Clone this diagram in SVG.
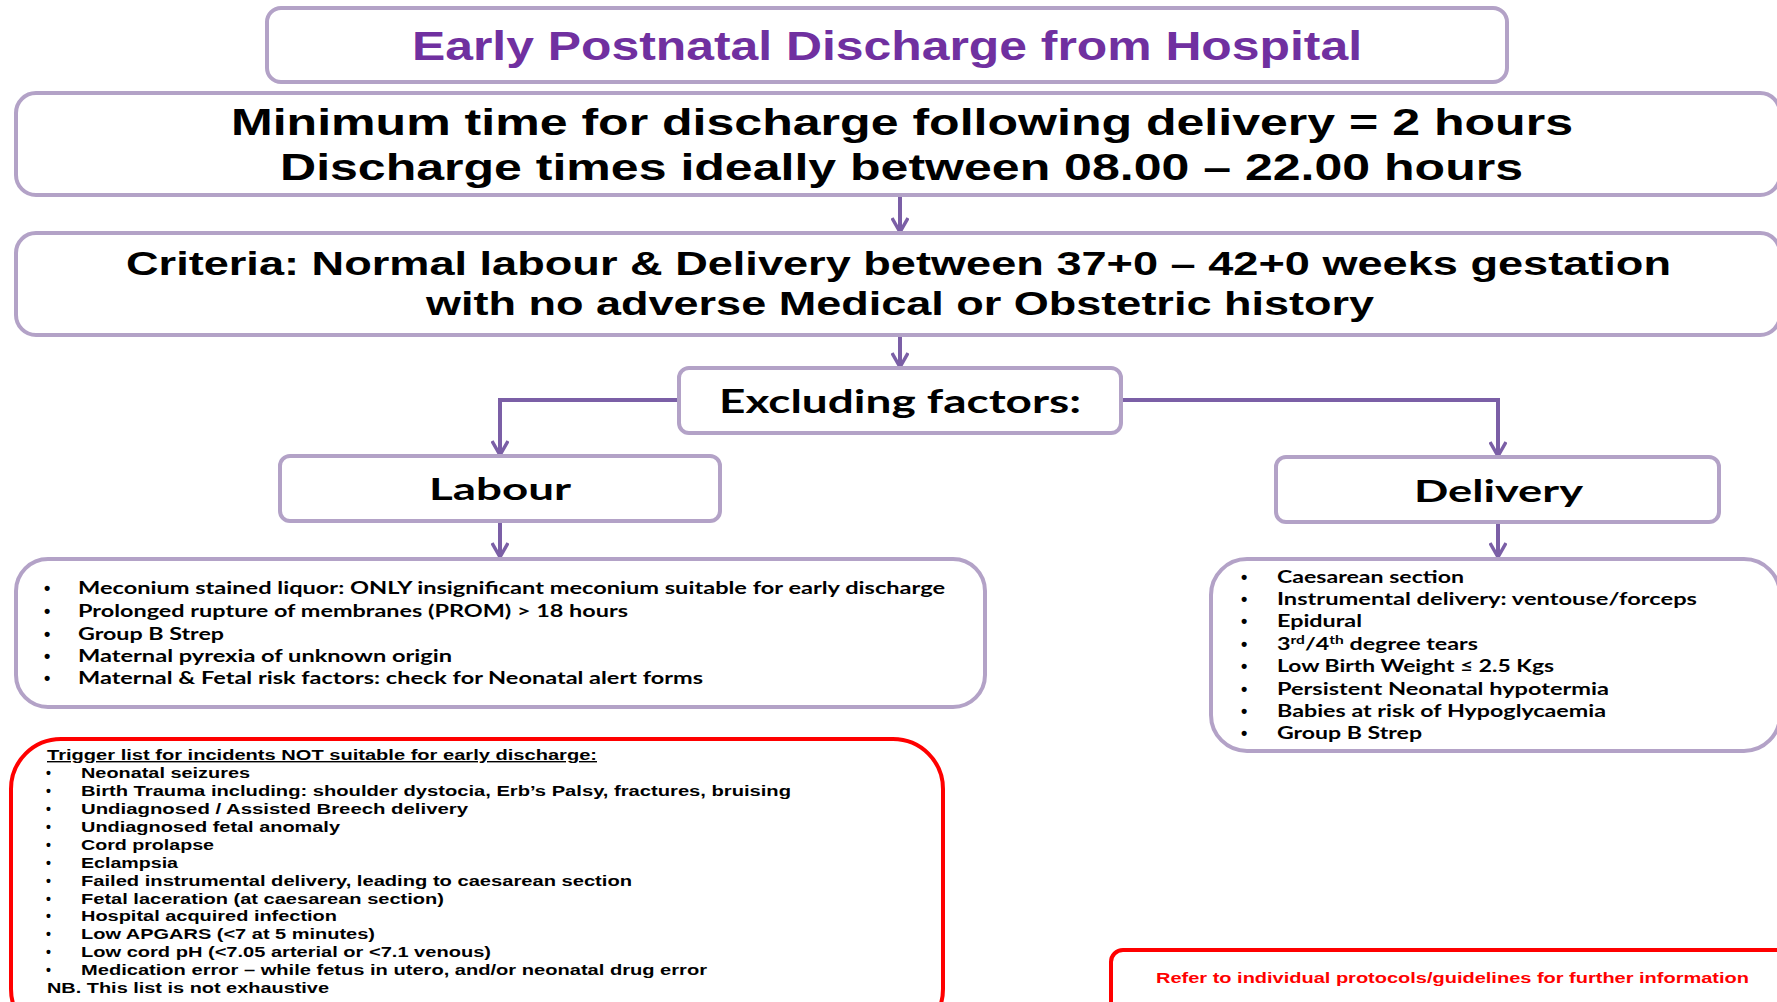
<svg xmlns="http://www.w3.org/2000/svg" width="1777" height="1002" viewBox="0 0 1777 1002">
  <style>
    .box { fill: #ffffff; stroke: #B3A2C7; stroke-width: 4; }
    .red { fill: #ffffff; stroke: #FF0000; stroke-width: 4; }
    .conn { fill: none; stroke: #7B5FA6; stroke-width: 4; }
    .head { font-family: "Liberation Sans", Arial, sans-serif; font-weight: bold; fill: #000000; }
    .title { font-family: "Liberation Sans", Arial, sans-serif; font-weight: bold; fill: #7030A0; font-size: 40px; }
    .lbl { font-family: Lato, "Open Sans", sans-serif; font-weight: bold; fill: #000000; }
    .item { font-family: Lato, "Open Sans", sans-serif; font-weight: bold; fill: #000000; font-size: 16.5px; }
    .dot { font-family: "Liberation Sans", Arial, sans-serif; font-weight: bold; fill: #000000; font-size: 18px; }
    .trig { font-family: "Liberation Sans", Arial, sans-serif; font-weight: bold; fill: #000000; font-size: 14px; }
    .note { font-family: "Liberation Sans", Arial, sans-serif; font-weight: bold; fill: #FF0000; font-size: 14px; }
  </style>
  <defs>
    <marker id="arrow" viewBox="0 0 18 18" refX="16" refY="9" markerWidth="18" markerHeight="18" markerUnits="userSpaceOnUse" orient="auto">
      <path d="M2,1 L16,9 L2,17" fill="none" stroke="#7B5FA6" stroke-width="3.5" stroke-linejoin="miter"/>
    </marker>
  </defs>
  <rect width="1777" height="1002" fill="#ffffff"/>

  <!-- connectors -->
  <g id="connectors">
    <path class="conn" d="M900,195 L900,232" marker-end="url(#arrow)"/>
    <path class="conn" d="M900,335 L900,367" marker-end="url(#arrow)"/>
    <path class="conn" d="M679,400 L500,400 L500,455" marker-end="url(#arrow)"/>
    <path class="conn" d="M1121,400 L1498,400 L1498,456" marker-end="url(#arrow)"/>
    <path class="conn" d="M500,521 L500,557" marker-end="url(#arrow)"/>
    <path class="conn" d="M1498,522 L1498,557" marker-end="url(#arrow)"/>
  </g>

  <!-- title -->
  <g id="title">
    <rect class="box" x="267" y="8" width="1240" height="74" rx="14"/>
    <text class="title" x="412" y="60" textLength="950" lengthAdjust="spacingAndGlyphs">Early Postnatal Discharge from Hospital</text>
  </g>

  <!-- discharge timing -->
  <g id="timing">
    <rect class="box" x="16" y="93" width="1764" height="102" rx="20"/>
    <text class="head" font-size="36" x="231" y="135" textLength="1342" lengthAdjust="spacingAndGlyphs">Minimum time for discharge following delivery = 2 hours</text>
    <text class="head" font-size="36" x="280" y="180" textLength="1243" lengthAdjust="spacingAndGlyphs">Discharge times ideally between 08.00 – 22.00 hours</text>
  </g>

  <!-- criteria -->
  <g id="criteria">
    <rect class="box" x="16" y="233" width="1764" height="102" rx="20"/>
    <text class="head" font-size="33" x="126" y="275" textLength="1545" lengthAdjust="spacingAndGlyphs">Criteria: Normal labour &amp; Delivery between 37+0 – 42+0 weeks gestation</text>
    <text class="head" font-size="33" x="426" y="315" textLength="948" lengthAdjust="spacingAndGlyphs">with no adverse Medical or Obstetric history</text>
  </g>

  <!-- excluding factors -->
  <g id="excluding">
    <rect class="box" x="679" y="368" width="442" height="65" rx="10"/>
    <text class="lbl" font-size="32" x="719" y="413" textLength="362" lengthAdjust="spacingAndGlyphs">Excluding factors:</text>
  </g>

  <!-- labour -->
  <g id="labour">
    <rect class="box" x="280" y="456" width="440" height="65" rx="10"/>
    <text class="lbl" font-size="31" x="429" y="500" textLength="142" lengthAdjust="spacingAndGlyphs">Labour</text>
  </g>

  <!-- delivery -->
  <g id="delivery">
    <rect class="box" x="1276" y="457" width="443" height="65" rx="10"/>
    <text class="lbl" font-size="31" x="1414" y="502" textLength="169" lengthAdjust="spacingAndGlyphs">Delivery</text>
  </g>

  <!-- labour factors -->
  <g id="labour-list">
    <rect class="box" x="16" y="559" width="969" height="148" rx="32"/>
    <g class="dot">
      <text x="44" y="594">•</text>
      <text x="44" y="617">•</text>
      <text x="44" y="640">•</text>
      <text x="44" y="662">•</text>
      <text x="44" y="684">•</text>
    </g>
    <text class="item" x="78" y="594" textLength="867" lengthAdjust="spacingAndGlyphs">Meconium stained liquor: ONLY insignificant meconium suitable for early discharge</text>
    <text class="item" x="78" y="617" textLength="550" lengthAdjust="spacingAndGlyphs">Prolonged rupture of membranes (PROM) &gt; 18 hours</text>
    <text class="item" x="78" y="640" textLength="146" lengthAdjust="spacingAndGlyphs">Group B Strep</text>
    <text class="item" x="78" y="662" textLength="374" lengthAdjust="spacingAndGlyphs">Maternal pyrexia of unknown origin</text>
    <text class="item" x="78" y="684" textLength="625" lengthAdjust="spacingAndGlyphs">Maternal &amp; Fetal risk factors: check for Neonatal alert forms</text>
  </g>

  <!-- delivery factors -->
  <g id="delivery-list">
    <rect class="box" x="1211" y="559" width="569" height="192" rx="36"/>
    <g class="dot">
      <text x="1241" y="583">•</text>
      <text x="1241" y="605">•</text>
      <text x="1241" y="627">•</text>
      <text x="1241" y="650">•</text>
      <text x="1241" y="672">•</text>
      <text x="1241" y="695">•</text>
      <text x="1241" y="717">•</text>
      <text x="1241" y="739">•</text>
    </g>
    <text class="item" x="1277" y="583" textLength="187" lengthAdjust="spacingAndGlyphs">Caesarean section</text>
    <text class="item" x="1277" y="605" textLength="420" lengthAdjust="spacingAndGlyphs">Instrumental delivery: ventouse/forceps</text>
    <text class="item" x="1277" y="627" textLength="85" lengthAdjust="spacingAndGlyphs">Epidural</text>
    <text class="item" x="1277" y="650" textLength="201" lengthAdjust="spacingAndGlyphs">3<tspan font-size="11" dy="-6">rd</tspan><tspan dy="6">/4</tspan><tspan font-size="11" dy="-6">th</tspan><tspan dy="6"> degree tears</tspan></text>
    <text class="item" x="1277" y="672" textLength="277" lengthAdjust="spacingAndGlyphs">Low Birth Weight ≤ 2.5 Kgs</text>
    <text class="item" x="1277" y="695" textLength="332" lengthAdjust="spacingAndGlyphs">Persistent Neonatal hypotermia</text>
    <text class="item" x="1277" y="717" textLength="329" lengthAdjust="spacingAndGlyphs">Babies at risk of Hypoglycaemia</text>
    <text class="item" x="1277" y="739" textLength="145" lengthAdjust="spacingAndGlyphs">Group B Strep</text>
  </g>

  <!-- trigger list -->
  <g id="trigger-list">
    <rect class="red" x="11" y="739" width="932" height="300" rx="50"/>
    <text class="trig" x="47" y="760" textLength="550" lengthAdjust="spacingAndGlyphs" text-decoration="underline">Trigger list for incidents NOT suitable for early discharge:</text>
    <g class="trig">
      <text x="46" y="778">•</text>
      <text x="46" y="796">•</text>
      <text x="46" y="814">•</text>
      <text x="46" y="832">•</text>
      <text x="46" y="850">•</text>
      <text x="46" y="868">•</text>
      <text x="46" y="886">•</text>
      <text x="46" y="904">•</text>
      <text x="46" y="921">•</text>
      <text x="46" y="939">•</text>
      <text x="46" y="957">•</text>
      <text x="46" y="975">•</text>
    </g>
    <text class="trig" x="81" y="778" textLength="169" lengthAdjust="spacingAndGlyphs">Neonatal seizures</text>
    <text class="trig" x="81" y="796" textLength="710" lengthAdjust="spacingAndGlyphs">Birth Trauma including: shoulder dystocia, Erb’s Palsy, fractures, bruising</text>
    <text class="trig" x="81" y="814" textLength="387" lengthAdjust="spacingAndGlyphs">Undiagnosed  / Assisted Breech delivery</text>
    <text class="trig" x="81" y="832" textLength="259" lengthAdjust="spacingAndGlyphs">Undiagnosed fetal anomaly</text>
    <text class="trig" x="81" y="850" textLength="133" lengthAdjust="spacingAndGlyphs">Cord prolapse</text>
    <text class="trig" x="81" y="868" textLength="97" lengthAdjust="spacingAndGlyphs">Eclampsia</text>
    <text class="trig" x="81" y="886" textLength="551" lengthAdjust="spacingAndGlyphs">Failed instrumental delivery, leading to caesarean section</text>
    <text class="trig" x="81" y="904" textLength="363" lengthAdjust="spacingAndGlyphs">Fetal laceration (at caesarean section)</text>
    <text class="trig" x="81" y="921" textLength="256" lengthAdjust="spacingAndGlyphs">Hospital acquired infection</text>
    <text class="trig" x="81" y="939" textLength="294" lengthAdjust="spacingAndGlyphs">Low APGARS (&lt;7 at 5 minutes)</text>
    <text class="trig" x="81" y="957" textLength="410" lengthAdjust="spacingAndGlyphs">Low cord pH (&lt;7.05 arterial or &lt;7.1 venous)</text>
    <text class="trig" x="81" y="975" textLength="626" lengthAdjust="spacingAndGlyphs">Medication error – while fetus in utero, and/or neonatal drug error</text>
    <text class="trig" x="47" y="993" textLength="282" lengthAdjust="spacingAndGlyphs">NB. This list is not exhaustive</text>
  </g>

  <!-- further information -->
  <g id="further-info">
    <rect class="red" x="1111" y="950" width="680" height="80" rx="12"/>
    <text class="note" x="1156" y="983" textLength="593" lengthAdjust="spacingAndGlyphs">Refer to individual protocols/guidelines for further information</text>
  </g>
</svg>
